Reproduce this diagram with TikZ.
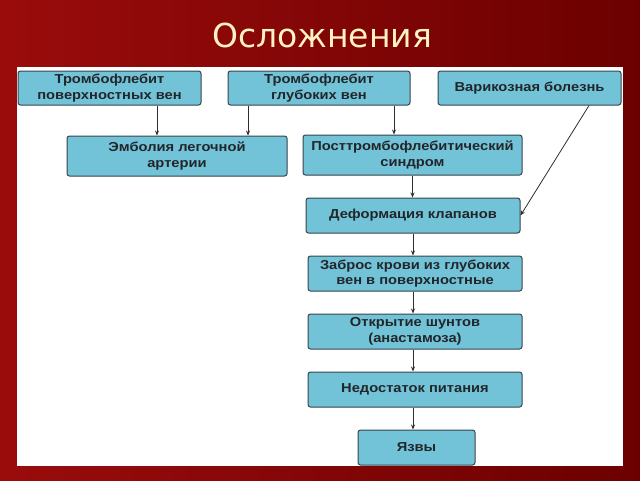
\documentclass[tikz,border=0pt]{standalone}
\usepackage{fontspec}
\setmainfont[FakeStretch=1.13]{Liberation Sans}
\newfontfamily\titlefont{DejaVu Sans}
\usetikzlibrary{arrows.meta}
\definecolor{SlideRed}  {HTML}{9A0C0C}
\definecolor{SlideDark} {HTML}{6C0000}
\definecolor{TitleCream}{HTML}{FFF3C4}
\definecolor{BoxBlue}   {HTML}{72C3D8}
\definecolor{BoxEdge}   {HTML}{36444C}
\definecolor{TextInk}   {HTML}{22262A}
\definecolor{ArrowInk}  {HTML}{2E2E2E}

\tikzset{
  box/.style={draw=BoxEdge, line width=1pt, fill=BoxBlue, rounded corners=2.5pt,
              text=TextInk, font=\bfseries\fontsize{13}{15.5}\selectfont,
              align=center, inner sep=2pt},
  arr/.style={-{Stealth[length=5pt,width=4pt]}, line width=0.8pt, ArrowInk}
}

\begin{document}
\begin{tikzpicture}[x=1pt, y=-1pt]

  % ===== SLIDE BACKGROUND =====
  \shade[left color=SlideRed, right color=SlideDark] (0,0) rectangle (640,480);
  \useasboundingbox (0,0) rectangle (640,480);
  \fill[white] (17,67) rectangle (623,466);
  \node[text=TitleCream, font=\titlefont\fontsize{33}{36}\selectfont] (title) at (322,35) {Осложнения};

  % ===== TOP ROW =====
  \node[box, minimum width=183, minimum height=34] (tpv) at (109.5,88) {Тромбофлебит\\поверхностных вен};
  \node[box, minimum width=182, minimum height=34] (tgv) at (319,88) {Тромбофлебит\\глубоких вен};
  \node[box, minimum width=183, minimum height=34] (vb)  at (529.5,88) {Варикозная болезнь};

  % ===== SECOND ROW =====
  \node[box, minimum width=220, minimum height=40] (ela) at (177,156) {Эмболия легочной\\артерии};
  \node[box, minimum width=219, minimum height=40] (pts) at (412.5,155) {Посттромбофлебитический\\синдром};

  % ===== CHAIN =====
  \node[box, minimum width=214, minimum height=35] (dk)  at (413,215.5) {Деформация клапанов};
  \node[box, minimum width=214, minimum height=35] (zk)  at (415,273.5) {Заброс крови из глубоких\\вен в поверхностные};
  \node[box, minimum width=214, minimum height=35] (osh) at (415,331.5) {Открытие шунтов\\(анастамоза)};
  \node[box, minimum width=214, minimum height=35] (np)  at (415,389.5) {Недостаток питания};
  \node[box, minimum width=117, minimum height=35] (yaz) at (416.5,447.5) {Язвы};

  % ===== ARROWS =====
  \draw[arr] ([xshift=47.5]tpv.south) -- ([xshift=47.5]tpv.south |- ela.north);
  \draw[arr] ([xshift=-71]tgv.south) -- ([xshift=-71]tgv.south |- ela.north);
  \draw[arr] ([xshift=75]tgv.south) -- ([xshift=75]tgv.south |- pts.north);
  \draw[arr] ([xshift=59.5]vb.south) -- (dk.east);
  \draw[arr] (pts.south) -- (pts.south |- dk.north);
  \draw[arr] (dk.south) -- (dk.south |- zk.north);
  \draw[arr] (zk.south -| dk.south) -- (dk.south |- osh.north);
  \draw[arr] (osh.south -| dk.south) -- (dk.south |- np.north);
  \draw[arr] (np.south -| dk.south) -- (dk.south |- yaz.north);

\end{tikzpicture}
\end{document}
